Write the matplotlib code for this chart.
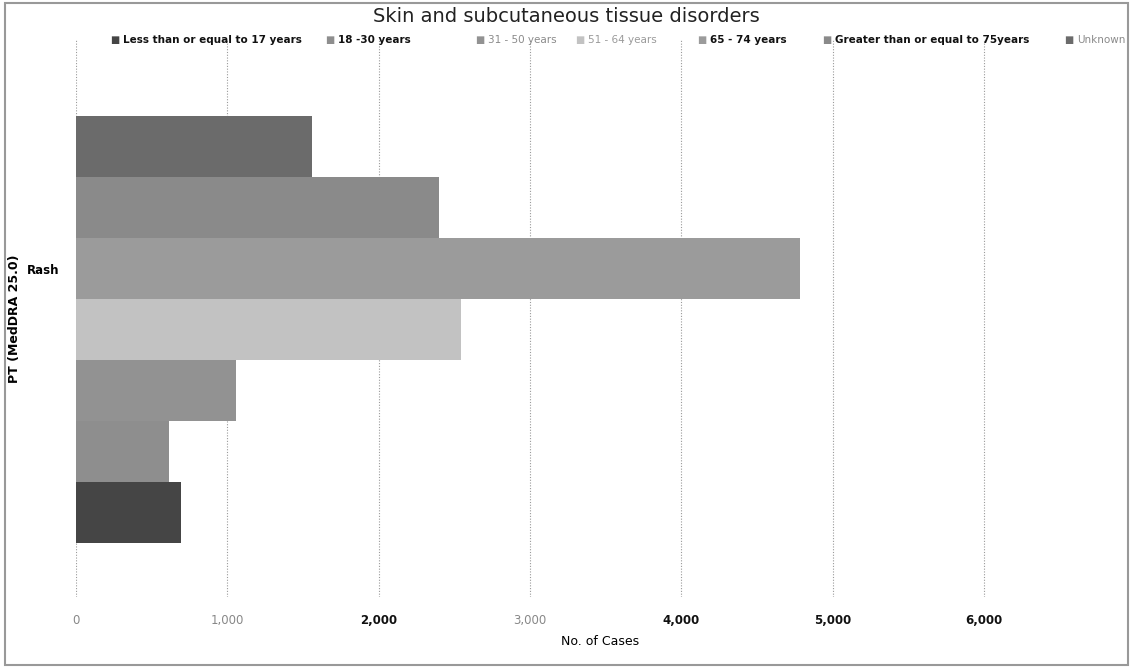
import matplotlib
matplotlib.use("Agg")
import matplotlib.pyplot as plt
from matplotlib.ticker import FuncFormatter

plt.rcParams['font.family'] = ['DejaVu Sans']

# data (bottom to top, as Excel draws series)
groups = ['Less than or equal to 17 years', '18 -30 years', '31 - 50 years',
          '51 - 64 years', '65 - 74 years', 'Greater than or equal to 75years', 'Unknown']
cases = [693, 614, 1060, 2541, 4785, 2396, 1558]
colors = ['#454545', '#8e8e8e', '#929292', '#c2c2c2', '#9b9b9b', '#8a8a8a', '#6b6b6b']
legend_txt_colors = ['#111111', '#111111', '#8a8a8a', '#9a9a9a', '#111111', '#111111', '#8a8a8a']
legend_x = [110, 325, 475, 575, 697, 822, 1064]   # left edge of each legend entry, px
xticks = [0, 1000, 2000, 3000, 4000, 5000, 6000]
xtick_colors = ['#888888', '#888888', '#111111', '#888888', '#111111', '#111111', '#111111']

W, H = 1133, 668
fig = plt.figure(figsize=(W / 100, H / 100), dpi=100)
ax = fig.add_axes([76 / W, 71 / H, (1125 - 76) / W, (597 - 40) / H])

for i, (g, v, c) in enumerate(zip(groups, cases, colors)):
    ax.barh(i, v, height=1.0, color=c, label=g, zorder=2)

ax.set_xlim(0, 6930)
ax.set_ylim(-1.39, 7.75)
ax.set_xticks(xticks)
ax.xaxis.set_major_formatter(FuncFormatter(lambda x, p: f'{int(x):,}'))
for lab, c in zip(ax.get_xticklabels(), xtick_colors):
    lab.set_color(c)
    if c == '#111111':
        lab.set_fontweight('bold')
ax.grid(axis='x', linestyle=(0, (1, 1.5)), color='#9a9a9a', linewidth=0.8, zorder=0)
for s in ax.spines.values():
    s.set_visible(False)
ax.tick_params(axis='x', length=0, labelsize=8.5, pad=12)
ax.set_yticks([4.0])
ax.set_yticklabels(['Rash'], fontsize=8.5, fontweight='bold')
ax.tick_params(axis='y', length=0, pad=12)
ax.set_xlabel('No. of Cases', fontsize=9, labelpad=6)
ax.set_ylabel('PT (MedDRA 25.0)', fontsize=9, fontweight='bold', labelpad=4)

fig.text(0.5, 1 - 17 / H, 'Skin and subcutaneous tissue disorders', ha='center', va='center',
         fontsize=14, color='#222222')

# legend entries laid out along the top like the Excel chart
ly = 1 - 40 / H
for g, c, tc, x in zip(groups, colors, legend_txt_colors, legend_x):
    fig.text(x / W, ly, '\u25a0', color=c, fontsize=7, va='center', ha='left')
    fig.text((x + 13) / W, ly, g, color=tc, fontsize=7.5, va='center', ha='left',
             fontweight='bold' if tc == '#111111' else 'normal')

# outer border of the chart area
fig.patches.append(plt.Rectangle((0.004, 0.004), 0.992, 0.992, transform=fig.transFigure,
                                 fill=False, edgecolor='#999999', linewidth=1.5))

plt.savefig('out.png', dpi=100)
